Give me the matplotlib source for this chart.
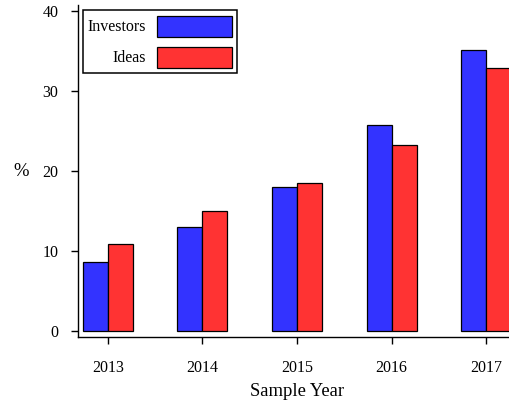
import matplotlib
matplotlib.use("Agg")
import matplotlib.pyplot as plt
from matplotlib.patches import Rectangle
import numpy as np

years = ["2013", "2014", "2015", "2016", "2017"]
investors = [8.7, 13.1, 18.1, 25.8, 35.2]
ideas = [10.9, 15.0, 18.5, 23.3, 32.9]
series_names = ["Investors", "Ideas"]
series_colors = ["#3333ff", "#ff3333"]
y_ticks = [0, 10, 20, 30, 40]

plt.rcParams["font.family"] = ["Liberation Serif", "DejaVu Serif"]

W, H = 509, 404
fig = plt.figure(figsize=(W / 100, H / 100), dpi=100)
ax = fig.add_axes([77.7 / W, 1 - 337.3 / H, (516.3 - 77.7) / W, (337.3 - 5) / H])

x = np.arange(len(years))
bw = 25 / 94.5
ax.bar(x - bw / 2, investors, width=bw, color=series_colors[0],
       edgecolor="black", linewidth=0.9)
ax.bar(x + bw / 2, ideas, width=bw, color=series_colors[1],
       edgecolor="black", linewidth=0.9)

ax.set_xlim(-0.3206, 4.3206)
ax.set_ylim(-0.725, 40.81)
ax.set_xticks(x)
ax.set_xticklabels(years)
ax.set_yticks(y_ticks)

for s in ["top", "right"]:
    ax.spines[s].set_visible(False)
for s in ["left", "bottom"]:
    ax.spines[s].set_linewidth(1.0)
ax.tick_params(axis="both", direction="out", length=5, width=1.0,
               labelsize=11.5, colors="black")
ax.tick_params(axis="x", pad=11)
ax.tick_params(axis="y", pad=9)

# Legend box laid out in pixel units on a full-figure overlay
lg = fig.add_axes([0, 0, 1, 1], facecolor="none")
lg.set_xlim(0, W)
lg.set_ylim(H, 0)
lg.axis("off")
lg.add_patch(Rectangle((83, 10), 154, 63, facecolor="white",
                       edgecolor="black", linewidth=1.1))
for i, (name, col) in enumerate(zip(series_names, series_colors)):
    top = 15.7 + i * 31
    lg.add_patch(Rectangle((156.7, top), 75, 21.6, facecolor=col,
                           edgecolor="black", linewidth=0.9))
    lg.text(145.7, top + 11, name, ha="right", va="center", fontsize=11.5)

fig.text(297.5 / W, 1 - 391.7 / H, "Sample Year", ha="center", va="center",
         fontsize=13.4)
fig.text(21 / W, 1 - 172 / H, "%", ha="center", va="center", fontsize=13.4)

fig.savefig("out.png", dpi=100)
